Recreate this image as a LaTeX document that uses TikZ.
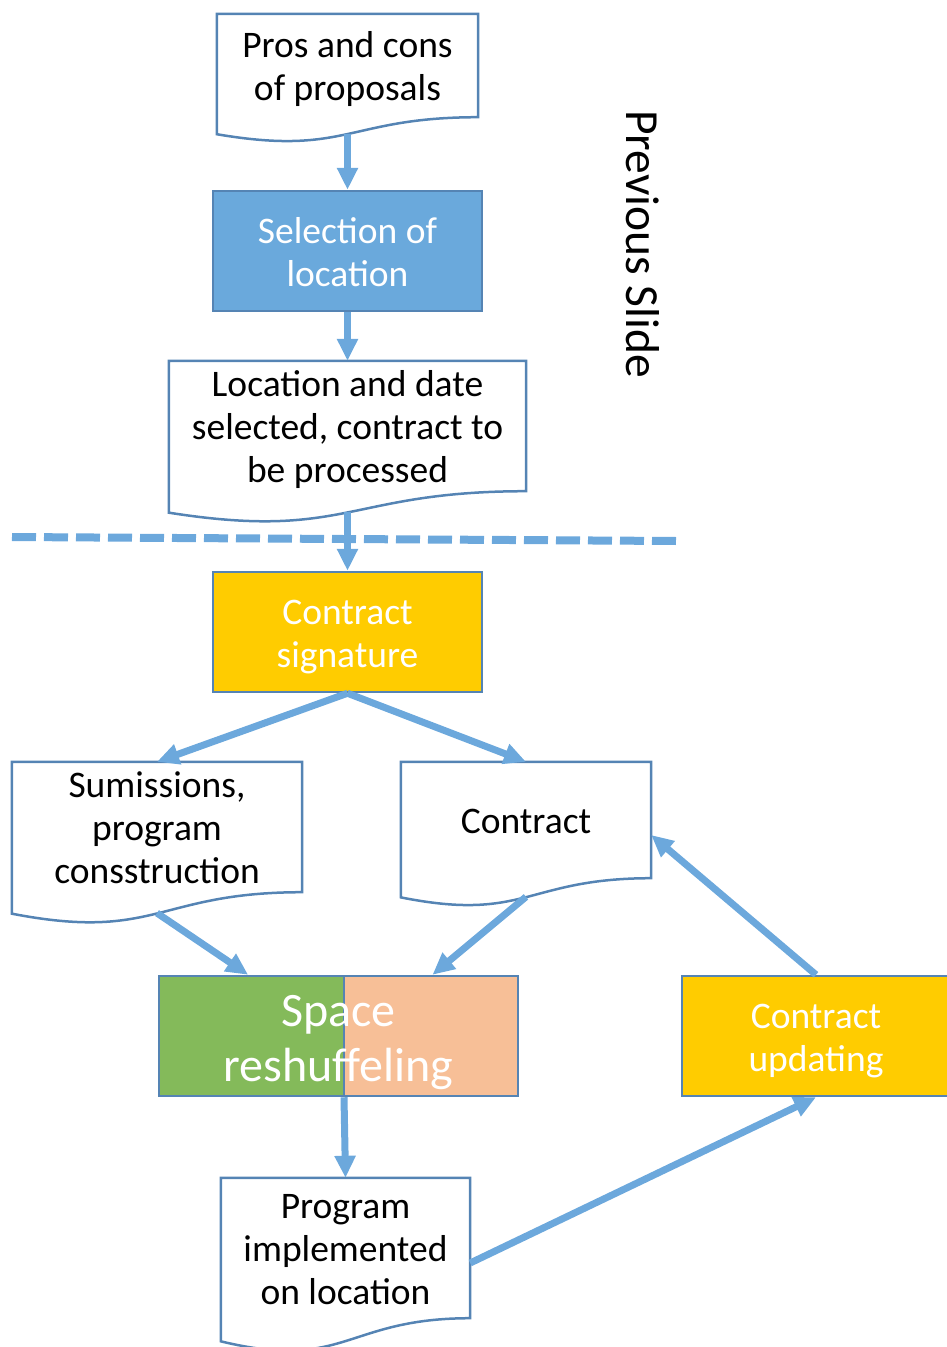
\documentclass[tikz,border=0pt]{standalone}
\usepackage{fontspec}
\setmainfont{Carlito}
\usepackage{tikz}
\usetikzlibrary{positioning,calc,arrows.meta}

\definecolor{arrowblue}{HTML}{6CA8DC}
\definecolor{edgeblue}{HTML}{5584B4}
\definecolor{selblue}{HTML}{6AA9DC}
\definecolor{signgold}{HTML}{FFCC00}
\definecolor{spacegreen}{HTML}{84BA5A}
\definecolor{spacepeach}{HTML}{F7BF97}

\tikzset{
  lines/.style={align=flush center,inner sep=0pt,minimum width=#1,text width=#1,
    font=\fontsize{37.5}{43}\selectfont,
    execute at begin node={\rule{0pt}{0.93em}},
    execute at end node={\rule[-0.2em]{0pt}{0.2em}}},
  doc/.style={lines=#1,draw=none},
  docline/.style={draw=edgeblue,line width=2.5pt},
  box/.style={lines=#1,draw=edgeblue,line width=2.5pt,text=white,minimum height=120pt},
  flow/.style={draw=arrowblue,line width=7pt,-{Triangle[width=20pt,length=22pt]}}
}

\newcommand{\docshape}[1]{%
  \draw[docline] (#1.north west) -- (#1.north east) -- (#1.south east)
    .. controls (#1.south) and ($(#1.south)!-0.38!(#1.north)$) ..
    ($(#1.south west)!-0.1646!(#1.north west)$) -- cycle;}

\begin{document}
\begin{tikzpicture}[x=1pt,y=-1pt]
\useasboundingbox (0,0) rectangle (946,1347);

\node[doc=261pt,minimum height=103pt] (pros) at (347.5,65.5) {Pros and cons\\of proposals};
\docshape{pros}
\node[box=269pt,fill=selblue] (sel) at (347.5,251) {Selection of\\location};
\node[doc=357pt,minimum height=130pt] (locdate) at (347.5,426) {Location and date\\selected, contract to\\be processed};
\docshape{locdate}

\node[rotate=-90,font=\fontsize{47.5}{57}\selectfont] (prev) at (643,244) {Previous Slide};

\draw[draw=arrowblue,line width=8pt,dash pattern=on 24pt off 8pt] (12,537) -- (677,541);

\node[box=269pt,fill=signgold] (sign) at (347.5,632) {Contract\\signature};
\node[doc=290pt,minimum height=130pt] (subm) at (157,827) {Sumissions,\\program\\consstruction};
\docshape{subm}
\node[doc=250pt,minimum height=116pt] (contract) at (526,820) {Contract};
\docshape{contract}

\node[box=359pt,font=\fontsize{48}{55}\selectfont,path picture={
  \fill[spacegreen] (path picture bounding box.south west) rectangle ($(path picture bounding box.north)+(5.5,0)$);
  \fill[spacepeach] ($(path picture bounding box.south)+(5.5,0)$) rectangle (path picture bounding box.north east);
  \draw[edgeblue,line width=2.5pt] ($(path picture bounding box.south)+(5.5,0)$) -- ($(path picture bounding box.north)+(5.5,0)$);
}] (space) at (338.5,1036) {Space\\reshuffeling};
\node[box=268pt,fill=signgold] (upd) at (816,1036) {Contract\\updating};

\node[doc=249pt,minimum height=140pt] (impl) at (345.5,1248) {Program\\implemented\\on location};
\docshape{impl}

\draw[flow] ($(pros.south)!-0.16!(pros.north)$) -- (sel.north);
\draw[flow] (sel.south) -- (locdate.north);
\draw[flow] ($(locdate.south)!-0.16!(locdate.north)$) -- (sign.north);
\draw[flow] (sign.south) -- (subm.north);
\draw[flow] (sign.south) -- (contract.north);
\draw[flow] ($(subm.south)!-0.16!(subm.north)$) -- ($(space.north west)!0.25!(space.north east)$);
\draw[flow] ($(contract.south)!-0.16!(contract.north)$) -- ($(space.north west)!0.76!(space.north east)$);
\draw[flow] ($(space.south)+(5.5,0)$) -- (impl.north);
\draw[flow] ($(impl.east)+(0,15)$) -- (upd.south);
\draw[flow] (upd.north) -- ($(contract.east)+(0,15)$);

\end{tikzpicture}
\end{document}
